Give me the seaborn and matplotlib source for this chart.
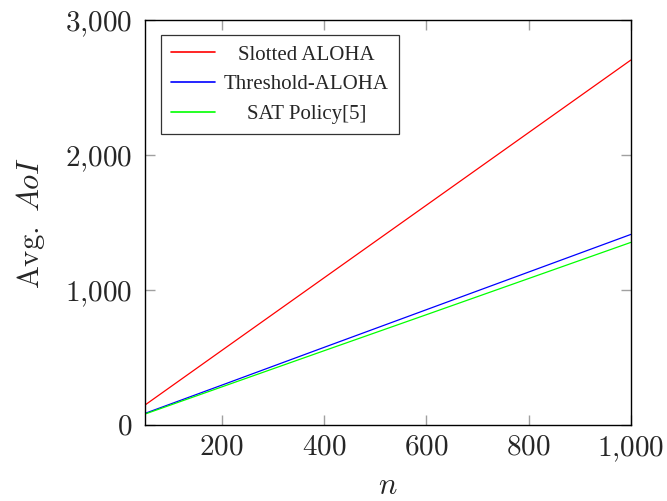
import numpy as np
import pandas as pd
import matplotlib
matplotlib.use('Agg')
import matplotlib.pyplot as plt
import seaborn as sns

n_vals = [50, 200, 400, 600, 800, 1000]
slotted_aloha = [148, 552, 1090, 1628, 2166, 2704]
threshold_aloha = [86, 295, 575, 854, 1133, 1412]
sat_policy = [81, 282, 550, 817, 1085, 1353]
series_names = ['Slotted ALOHA', 'Threshold-ALOHA', 'SAT Policy[5]']
colors = ['#ff0000', '#0000ff', '#00ff00']

df = pd.DataFrame({
    'n': n_vals * 3,
    'aoi': slotted_aloha + threshold_aloha + sat_policy,
    'policy': [series_names[0]] * len(n_vals) + [series_names[1]] * len(n_vals)
              + [series_names[2]] * len(n_vals),
})

sns.set_style('white')
plt.rcParams['mathtext.fontset'] = 'cm'
plt.rcParams['font.family'] = ['Liberation Serif', 'DejaVu Serif']

fig = plt.figure(figsize=(6.67, 5.01), dpi=100)
ax = fig.add_axes([0.2174, 0.1517, 0.7286, 0.8084])

sns.lineplot(data=df, x='n', y='aoi', hue='policy', palette=colors,
             linewidth=0.9, ax=ax)

ax.set_xlim(50, 1000)
ax.set_ylim(0, 3000)
xt = [200, 400, 600, 800, 1000]
yt = [0, 1000, 2000, 3000]
ax.set_xticks(xt)
ax.set_yticks(yt)
ax.set_xticklabels(['$' + f'{v:,}'.replace(',', '{,}') + '$' for v in xt], fontsize=21)
ax.set_yticklabels(['$' + f'{v:,}'.replace(',', '{,}') + '$' for v in yt], fontsize=21)
ax.tick_params(direction='in', length=7.3, width=1, color='#a0a0a0',
               top=True, right=True, bottom=True, left=True)
ax.tick_params(axis='x', pad=7)
ax.tick_params(axis='y', pad=9.4)
for s in ax.spines.values():
    s.set_color('black')
    s.set_linewidth(1.0)

ax.set_xlabel('$n$', fontsize=22, labelpad=5.5)
ax.set_ylabel(r'$\mathrm{Avg.}\ AoI$', fontsize=22, labelpad=13)

leg = ax.legend(loc='upper left', bbox_to_anchor=(0.033, 0.963), borderaxespad=0,
                fontsize=15, frameon=True, fancybox=False, edgecolor='black',
                handlelength=2.1, handletextpad=0.43, borderpad=0.48,
                labelspacing=0.49)
leg.get_frame().set_linewidth(0.9)
for line in leg.get_lines():
    line.set_linewidth(1.2)

# centre the legend entries like pgfplots does
fig.canvas.draw()
renderer = fig.canvas.get_renderer()
texts = leg.get_texts()
widths = [t.get_window_extent(renderer).width for t in texts]
maxw = max(widths)
for t, w in zip(texts, widths):
    t.set_position(((maxw - w) / 2, 0))

fig.savefig('out.png', dpi=100)
